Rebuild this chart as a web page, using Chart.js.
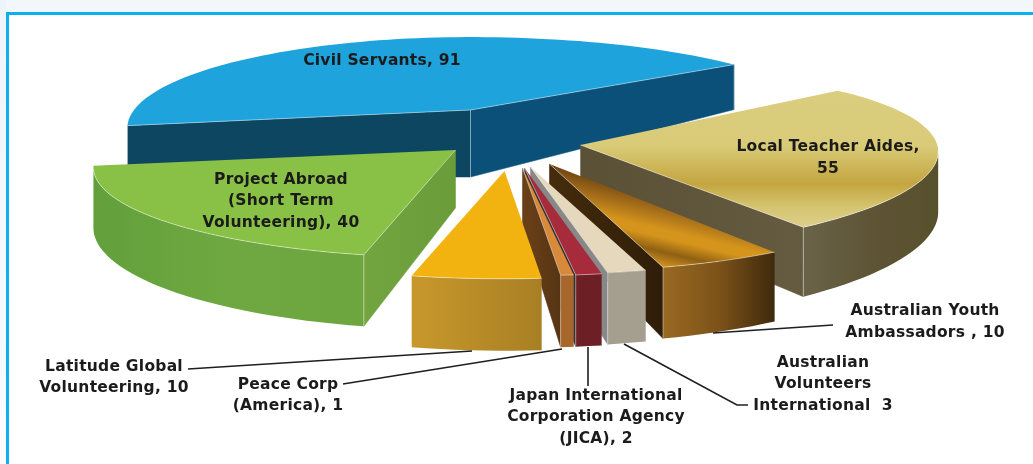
<!DOCTYPE html>
<html><head><meta charset="utf-8">
<script src="https://cdn.jsdelivr.net/npm/chart.js@4"></script>
<style>
html,body{margin:0;padding:0;background:#fff;width:1033px;height:464px;overflow:hidden}
#top{position:absolute;left:0;top:0;width:1033px;height:12px;background:#f2f7fc}
#side{position:absolute;left:0;top:0;width:6px;height:464px;background:linear-gradient(#eef4fa,#fafcfe)}
#frameT{position:absolute;left:6px;top:12px;width:1027px;height:3px;background:#0cb0ee}
#frameL{position:absolute;left:6px;top:12px;width:3px;height:452px;background:#0cb0ee}
canvas{position:absolute;left:0;top:0}
</style></head><body>
<div id="top"></div><div id="side"></div><div id="frameT"></div><div id="frameL"></div>
<canvas id="c" width="1033" height="464"></canvas>
<script>
const categories = ["Civil Servants","Local Teacher Aides","Australian Youth Ambassadors","Australian Volunteers International","Japan International Corporation Agency (JICA)","Peace Corp (America)","Latitude Global Volunteering","Project Abroad (Short Term Volunteering)"];
const values = [91,55,10,3,2,1,10,40];
const topColors = ["#1fa3dc","#d8ca78","#c98b1e","#e6d8bc","#a62c3c","#d9893a","#f2b311","#89c046"];

// explosion of each slice away from the pie centre, in pixels
const explodeX = [-46,64,33,14,8,6,-12,-61];
const explodeY = [-122,-87,-68,-65,-64,-64,-61,-82];
// per-slice distortion of the skewed 3D view
const squashLeft  = [0.935,1,1,1,1,1,1,0.987];
const squashRight = [1,0.975,0.985,1,1,1,0.975,1];
const shearY      = [0,-11,0,0,0,0,0,0];
const apexDepth   = [67,58,58,58,58,58,58,58];
const rimDepth    = [50,58,58,58,58,58,58,58];
const drawOrder = [0,7,1,2,3,4,5,6];
const view = {A:360,B:87,P:0.193};
const wallStyles = [
 {start:["#0d4660","#0d4660"],end:["#0a5078","#0a5078"],outer:["#0d4660","#0d4660"]},
 {start:["#5e5439","#5e5439"],end:["#5a5036","#645b40"],outer:["#6a6348","#5e5436","#57502c"]},
 {start:["#7a5010","#33200a"],end:["#452c0c","#2e1d08"],outer:["#9a6a22","#7c5219","#3f2a0c"]},
 {start:["#8a887f","#8a887f"],end:["#888","#888"],outer:["#a59f8f","#a59f8f"]},
 {start:["#3a2020","#3a2020"],end:["#333","#333"],outer:["#6c2025","#6c2025"]},
 {start:["#5f3a16","#5f3a16"],end:["#6b4018","#563414"],outer:["#a8672a","#a8672a"]},
 {start:["#a87f24","#a87f24"],end:["#a87f24","#a87f24"],outer:["#c8982c","#a87f24"]},
 {start:["#72a53f","#6a9c3a"],end:["#72a53f","#72a53f"],outer:["#62a03c","#6fa840","#6da53f"]}
];
const topStops = {
 1:[[0,"#dacd7e"],[0.4,"#d9cb78"],[0.68,"#c4a540"],[0.85,"#d5c46f"],[1,"#ddd08c"]],
 2:[[0,"#6b4310"],[0.2,"#a8701a"],[0.35,"#d5951c"],[0.42,"#d5951c"],[0.55,"#8f6013"],[0.68,"#d2931e"],[0.8,"#a8741c"],[0.9,"#c58f2a"],[1,"#c58f2a"]]
};
const labels = [
 {lines:["Civil Servants, 91"],x:382,y:[61]},
 {lines:["Local Teacher Aides,","55"],x:828,y:[147,169]},
 {lines:["Project Abroad","(Short Term","Volunteering), 40"],x:281,y:[180,201,223]},
 {lines:["Australian Youth","Ambassadors , 10"],x:925,y:[311,333]},
 {lines:["Australian","Volunteers","International  3"],x:823,y:[363,384,406]},
 {lines:["Latitude Global","Volunteering, 10"],x:114,y:[367,388]},
 {lines:["Peace Corp","(America), 1"],x:288,y:[385,406]},
 {lines:["Japan International","Corporation Agency","(JICA), 2"],x:596,y:[396,417,439]}
];
const leaders = [
 [[188,369],[472,351]],
 [[343,384],[562,349]],
 [[588,347],[588,386]],
 [[624,344],[737,405],[748,405]],
 [[713,333],[833,325]]
];

function grad(ctx,x0,y0,x1,y1,cols){
  const g=ctx.createLinearGradient(x0,y0,x1,y1);
  cols.forEach((c,k)=>g.addColorStop(cols.length>1?k/(cols.length-1):0,c));
  return g;
}
function poly(ctx,pts,close=true){
  pts.forEach((p,k)=>k?ctx.lineTo(p[0],p[1]):ctx.moveTo(p[0],p[1]));
  if(close)ctx.closePath();
}
const pie3d = {
  id:'pie3d',
  beforeDatasetsDraw(chart){
    const ctx=chart.ctx, arcs=chart.getDatasetMeta(0).data;
    drawOrder.forEach(i=>{
      const a=arcs[i], s=a.startAngle, e=a.endAngle;
      const proj=(ux,uy,depth)=>{const w=1-view.P*uy;
        const fx=ux<0?squashLeft[i]:squashRight[i];
        return [a.x+explodeX[i]+view.A*fx*ux/w, a.y+explodeY[i]+view.B*uy/w+shearY[i]*ux+depth/w];};
      const O=proj(0,0,0), Ob=proj(0,0,apexDepth[i]);
      const n=Math.max(2,Math.ceil((e-s)/(Math.PI/90)));
      const rim=[],rimB=[];
      for(let k=0;k<=n;k++){const t=s+(e-s)*k/n, c=Math.cos(t), d=Math.sin(t);
        rim.push(proj(c,d,0)); rimB.push(proj(c,d,rimDepth[i]));}
      const S=rim[0],E=rim[n],Sb=rimB[0],Eb=rimB[n];
      const ys=rim.concat([O]).map(p=>p[1]);
      const y0=Math.min(...ys),y1=Math.max(...ys);
      const st=wallStyles[i];
      const wall=(P,Pb,cols)=>{
        ctx.fillStyle=grad(ctx,Math.min(O[0],P[0]),0,Math.max(O[0],P[0])+0.01,0,cols);
        ctx.strokeStyle=cols[cols.length-1];ctx.lineWidth=0.5;
        ctx.beginPath();poly(ctx,[O,P,Pb,Ob]);ctx.fill();ctx.stroke();
      };
      if(S[0]<O[0]) wall(S,Sb,st.start);
      if(E[0]>O[0]) wall(E,Eb,st.end);
      ctx.beginPath();let front=[];
      for(let k=0;k<n;k++){ if(rim[k+1][0]<rim[k][0]) poly(ctx,[rim[k],rim[k+1],rimB[k+1],rimB[k]]),front.push(k); }
      if(front.length){
        ctx.fillStyle=grad(ctx,rim[front[front.length-1]+1][0],0,rim[front[0]][0]+0.01,0,st.outer);
        ctx.fill();
      }
      let fill=topColors[i];
      if(topStops[i]){
        const g= i===2 ? ctx.createLinearGradient(O[0],O[1],O[0]-25,O[1]+105)
                       : ctx.createLinearGradient(0,y0,0,y1);
        topStops[i].forEach(q=>g.addColorStop(q[0],q[1]));
        fill=g;
      }
      ctx.fillStyle=fill;
      ctx.beginPath();poly(ctx,[O].concat(rim));ctx.fill();
      ctx.strokeStyle='rgba(255,255,255,0.45)';ctx.lineWidth=1;
      if(front.length){
        ctx.beginPath();
        const seam=front.map(k=>rim[k]).concat([rim[front[front.length-1]+1]]);
        poly(ctx,seam,false);ctx.stroke();
      }
      const corner=(P,Pb)=>{ctx.beginPath();poly(ctx,[P,Pb],false);ctx.stroke();};
      if(S[0]<O[0]){corner(S,Sb);ctx.beginPath();poly(ctx,[O,S],false);ctx.stroke();}
      if(E[0]>O[0]){corner(E,Eb);ctx.beginPath();poly(ctx,[O,E],false);ctx.stroke();}
      if(S[0]<O[0]&&E[0]>O[0]) corner(O,Ob);
    });
    return false;
  },
  afterDraw(chart){
    const ctx=chart.ctx;
    ctx.save();
    ctx.strokeStyle='#1f1f1f';ctx.lineWidth=1.6;
    leaders.forEach(l=>{ctx.beginPath();poly(ctx,l,false);ctx.stroke();});
    ctx.fillStyle='#1b1b1b';ctx.font='bold 15.5px "DejaVu Sans"';
    ctx.letterSpacing='0.25px';
    ctx.textAlign='center';ctx.textBaseline='middle';
    labels.forEach(l=>l.lines.forEach((t,k)=>ctx.fillText(t,l.x,l.y[k])));
    ctx.restore();
  }
};
new Chart(document.getElementById('c'),{
  type:'pie',
  data:{labels:categories,datasets:[{data:values,backgroundColor:topColors,borderWidth:0}]},
  options:{responsive:false,animation:false,rotation:-100,layout:{padding:0},
    plugins:{legend:{display:false},tooltip:{enabled:false}}},
  plugins:[pie3d]
});
</script></body></html>
